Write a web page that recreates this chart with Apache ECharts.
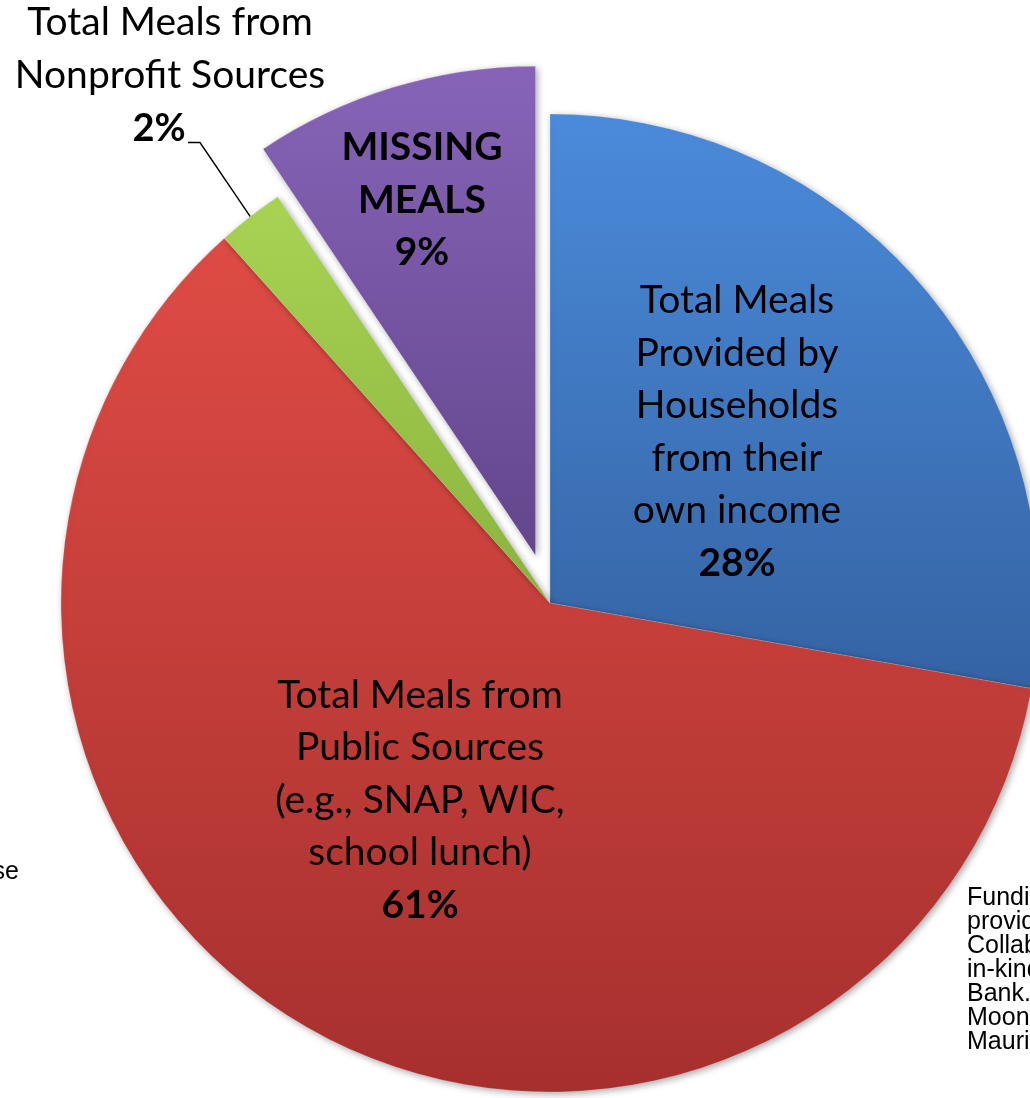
<!DOCTYPE html>
<html>
<head>
<meta charset="utf-8">
<script src="https://cdn.jsdelivr.net/npm/echarts@6/dist/echarts.min.js"></script>
<style>
  html, body { margin: 0; padding: 0; background: #ffffff; }
  #chart { width: 1030px; height: 1098px; }
</style>
</head>
<body>
<div id="chart"></div>
<script>
// ---- data ----
const categories = [
  'Total Meals\nProvided by\nHouseholds\nfrom their\nown income',
  'Total Meals from\nPublic Sources\n(e.g., SNAP, WIC,\nschool lunch)',
  'Total Meals from\nNonprofit Sources',
  'MISSING\nMEALS'
];
const shares = [27.8, 60.6, 2.2, 9.4];          // percent of meals
const exploded = [false, false, false, true];   // MISSING MEALS pulled out
const sideNoteLeft = ['se'];
const sideNoteRight = ['Funding', 'provided by the', 'Collaborative', 'in-kind support', 'Bank.', 'Moon', 'Maurice'];

// ---- styles ----
const gradients = [
  ['#4b8bdb', '#3463a3'],
  ['#df4b45', '#a6302e'],
  ['#a9d353', '#8ab43e'],
  ['#8764b8', '#63468c']
];
const labelPos = [[737, 432], [420, 800], [170, 76], [422, 200]];
const FONT = 'Lato';

const chart = echarts.init(document.getElementById('chart'), null, { renderer: 'canvas' });

function labelText(p) {
  if (p.dataIndex === 3) {
    return p.name.split('\n').map(s => '{b|' + s + '}').join('\n') + '\n{b|' + p.percent + '%}';
  }
  if (p.dataIndex === 2) {
    return p.name + '\n{p|' + p.percent + '%}';
  }
  return p.name + '\n{b|' + p.percent + '%}';
}

function placeLabel(p) {
  const pos = labelPos[p.dataIndex];
  const out = { x: pos[0], y: pos[1], align: 'center', verticalAlign: 'middle' };
  if (p.dataIndex === 2 && p.labelLinePoints) {
    const h = p.labelRect.height;
    const yb = pos[1] + h / 2 - 13;
    out.labelLinePoints = [p.labelLinePoints[0], [pos[0] + 30, yb], [pos[0] + 18, yb]];
  }
  return out;
}

const labelBase = {
  show: true,
  position: 'inside',
  color: '#000',
  fontFamily: FONT,
  fontSize: 39,
  lineHeight: 52.5,
  formatter: labelText,
  rich: {
    b: { fontFamily: FONT, fontWeight: 'bold', fontSize: 39, lineHeight: 52.5, color: '#000' },
    p: { fontFamily: FONT, fontWeight: 'bold', fontSize: 38, lineHeight: 54, color: '#000', padding: [0, 22, 0, 0] }
  }
};

// main pie: sectors (with the exploded slice)
const mainData = categories.map((name, i) => {
  const item = {
    name: name,
    value: shares[i],
    selected: exploded[i],
    itemStyle: {
      color: {
        type: 'linear', x: 0, y: 0, x2: 0, y2: 1,
        colorStops: [{ offset: 0, color: gradients[i][0] }, { offset: 1, color: gradients[i][1] }]
      }
    }
  };
  if (i === 2) {
    item.label = { position: 'outside' };
    item.labelLine = { show: true };
  }
  if (exploded[i]) {
    item.label = { show: false };
  }
  return item;
});

// overlay pie: same data, invisible sectors, carries the label of the exploded slice
const overlayData = categories.map((name, i) => ({
  name: name,
  value: shares[i],
  label: { show: exploded[i] }
}));

const option = {
  backgroundColor: '#ffffff',
  animation: false,
  series: [{
    type: 'pie',
    center: [550, 603],
    radius: [0, 489],
    startAngle: 90,
    clockwise: true,
    selectedMode: 'single',
    selectedOffset: 50,
    percentPrecision: 0,
    avoidLabelOverlap: false,
    emphasis: { disabled: true },
    itemStyle: {
      shadowBlur: 7,
      shadowOffsetX: 2,
      shadowOffsetY: 2,
      shadowColor: 'rgba(0,0,0,0.35)',
      borderColor: 'rgba(255,255,255,0.18)',
      borderWidth: 1
    },
    label: labelBase,
    labelLine: {
      show: false,
      lineStyle: { color: '#000', width: 1.4 }
    },
    labelLayout: placeLabel,
    data: mainData
  }, {
    type: 'pie',
    z: 3,
    silent: true,
    center: [550, 603],
    radius: [0, 489],
    startAngle: 90,
    clockwise: true,
    selectedMode: false,
    percentPrecision: 0,
    avoidLabelOverlap: false,
    emphasis: { disabled: true },
    itemStyle: { color: 'rgba(0,0,0,0)', borderWidth: 0 },
    label: labelBase,
    labelLine: { show: false },
    labelLayout: placeLabel,
    data: overlayData
  }],
  graphic: [
    {
      type: 'text', x: 19, y: 872,
      style: { text: sideNoteLeft.join('\n'), fontFamily: 'Liberation Sans', fontSize: 25, fill: '#000', align: 'right', verticalAlign: 'middle' }
    },
    {
      type: 'text', x: 967, y: 886,
      style: { text: sideNoteRight.join('\n'), fontFamily: 'Liberation Sans', fontSize: 25, lineHeight: 24, fill: '#000', align: 'left', verticalAlign: 'top' }
    }
  ]
};

chart.setOption(option);
</script>
</body>
</html>
